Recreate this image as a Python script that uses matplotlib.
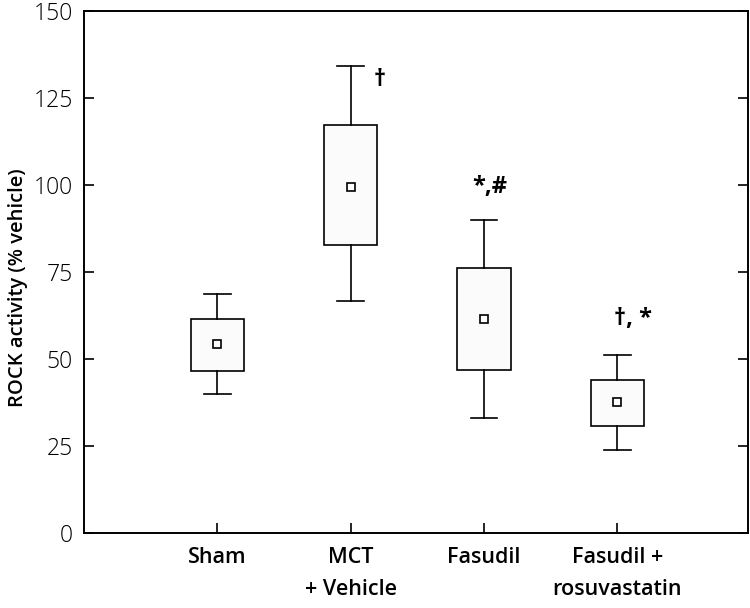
import matplotlib
matplotlib.use("Agg")
import matplotlib.pyplot as plt

# values
groups = ["Sham", "MCT\n+ Vehicle", "Fasudil", "Fasudil +\nrosuvastatin"]
whisker_low = [39.9, 66.6, 33.1, 23.8]
box_low = [46.6, 82.8, 46.9, 30.7]
means = [54.2, 99.4, 61.6, 37.6]
box_high = [61.4, 117.2, 76.1, 44.0]
whisker_high = [68.7, 134.2, 89.9, 51.1]
marks = ["", "\u2020", "*,#", "\u2020, *"]
mark_y = [0, 130.2, 99.5, 61.5]
mark_dx = [0, 0.22, 0.04, 0.12]

plt.rcParams['font.family'] = ['Open Sans', 'DejaVu Sans']

fig = plt.figure(figsize=(7.5, 6.08), dpi=100)
ax = fig.add_axes([84 / 750, 1 - 533 / 608, 664 / 750, 522 / 608])

pos = [1, 2, 3, 4]
stats = []
for i in range(len(groups)):
    stats.append({
        "whislo": whisker_low[i], "q1": box_low[i], "med": means[i],
        "q3": box_high[i], "whishi": whisker_high[i], "mean": means[i],
    })

ax.bxp(stats, positions=pos, widths=0.4, patch_artist=True,
       showmeans=True, showfliers=False,
       boxprops=dict(facecolor="#fbfbfb", edgecolor="black", linewidth=1.2),
       whiskerprops=dict(color="black", linewidth=1.2),
       capprops=dict(color="black", linewidth=1.2),
       capwidths=0.2,
       medianprops=dict(linewidth=0),
       meanprops=dict(marker="s", markersize=5.5, markerfacecolor="white",
                      markeredgecolor="black", markeredgewidth=1.2))

for i in range(len(groups)):
    if marks[i]:
        ax.text(pos[i] + mark_dx[i], mark_y[i], marks[i], ha="center",
                va="center", fontsize=17, fontweight="bold")

ax.set_xlim(0, 4.98)
ax.set_ylim(0, 150)
ax.set_yticks([0, 25, 50, 75, 100, 125, 150])
ax.set_xticks(pos)
ax.set_xticklabels(groups, fontsize=15.5, fontweight="semibold", linespacing=1.7)
ax.set_yticklabels(["0", "25", "50", "75", "100", "125", "150"],
                   fontsize=16.5, fontweight="light")
ax.tick_params(axis="y", direction="in", length=7, width=1.2, right=True, pad=8)
ax.tick_params(axis="x", direction="in", length=7, width=1.2, pad=10)
for s in ax.spines.values():
    s.set_linewidth(1.4)
ax.set_ylabel("ROCK activity (% vehicle)", fontsize=14.5, fontweight="semibold")
ax.yaxis.set_label_coords(-0.085, 0.47)

fig.savefig("out.png", dpi=100)
